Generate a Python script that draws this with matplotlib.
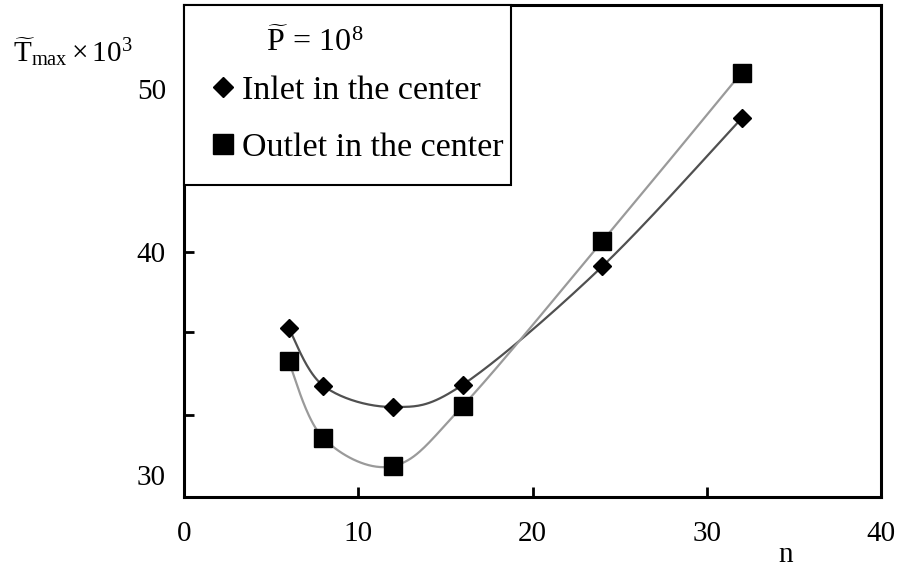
import numpy as np
import matplotlib
matplotlib.use("Agg")
import matplotlib.pyplot as plt
from matplotlib.lines import Line2D
from matplotlib.patches import Rectangle

plt.rcParams['font.family'] = ['Liberation Serif', 'DejaVu Serif']
plt.rcParams['mathtext.fontset'] = 'custom'
plt.rcParams['mathtext.rm'] = 'Liberation Serif'
plt.rcParams['mathtext.it'] = 'Liberation Serif:italic'
plt.rcParams['mathtext.bf'] = 'Liberation Serif:bold'

# ---- data -------------------------------------------------------------
n_values = [6, 8, 12, 16, 24, 32]
inlet_center = [36.6, 34.0, 33.05, 34.05, 39.35, 48.2]
outlet_center = [35.1, 31.65, 30.4, 33.1, 40.65, 51.0]
series_labels = ["Inlet in the center", "Outlet in the center"]
x_ticks = [0, 10, 20, 30, 40]
y_ticks = [30, 40, 50]
y_minor = [32.7, 36.4, 40, 45.0, 50]


# ---- piecewise-linear value axis (different spacing below/above 40) ----
def y_forward(v):
    v = np.asarray(v, dtype=float)
    return np.where(v < 40, -252.0 - (40.0 - v) * 22.3, -252.0 + (v - 40.0) * 16.3)


def y_inverse(u):
    u = np.asarray(u, dtype=float)
    return np.where(u < -252.0, 40.0 - (-252.0 - u) / 22.3, 40.0 + (u + 252.0) / 16.3)


def catmull_rom(xs, us, steps=40):
    pts = np.column_stack([xs, us]).astype(float)
    ext = np.vstack([pts[0], pts, pts[-1]])
    t = np.linspace(0, 1, steps)[:, None]
    segs = []
    for i in range(len(pts) - 1):
        p0, p1, p2, p3 = ext[i], ext[i + 1], ext[i + 2], ext[i + 3]
        c = 0.5 * (2 * p1 + (-p0 + p2) * t
                   + (2 * p0 - 5 * p1 + 4 * p2 - p3) * t ** 2
                   + (-p0 + 3 * p1 - 3 * p2 + p3) * t ** 3)
        segs.append(c if i == 0 else c[1:])
    return np.vstack(segs)


W, H = 899, 567
fig = plt.figure(figsize=(W / 100, H / 100), dpi=100)
ax = fig.add_axes([184 / W, 70 / H, 697 / W, 492 / H])
ax.set_yscale('function', functions=(y_forward, y_inverse))

# smoothed connecting curves
for vals, col in [(inlet_center, '#505050'), (outlet_center, '#9a9a9a')]:
    curve = catmull_rom(n_values, y_forward(vals))
    ax.plot(curve[:, 0], y_inverse(curve[:, 1]), color=col, lw=1.6, zorder=2,
            solid_capstyle='round')

ax.plot(n_values, inlet_center, linestyle='none', marker='D', ms=9.5,
        color='black', mec='black', zorder=3)
ax.plot(n_values, outlet_center, linestyle='none', marker='s', ms=13.5,
        color='black', mec='black', zorder=3)

ax.set_xlim(0, 40)
ax.set_ylim(float(y_inverse(-497.0)), float(y_inverse(-5.0)))

ax.set_xticks(x_ticks)
ax.set_xticklabels([str(v) for v in x_ticks])
ax.set_yticks(y_ticks)
ax.set_yticklabels([str(v) for v in y_ticks])
ax.set_yticks(y_minor, minor=True)
ax.yaxis.remove_overlapping_locs = False

ax.tick_params(axis='x', direction='in', length=7, width=2, labelsize=21, pad=17)
ax.tick_params(axis='y', which='major', length=0, labelsize=21, pad=13)
ax.tick_params(axis='y', which='minor', direction='in', length=7, width=2)

for sp in ax.spines.values():
    sp.set_linewidth(2.2)
    sp.set_color('black')

# legend box
frame = Rectangle((0, (497 - 185) / 492), (511 - 184) / 697, 1 - (497 - 185) / 492,
                  transform=ax.transAxes, facecolor='white', edgecolor='black',
                  lw=1.5, zorder=4, clip_on=False)
ax.add_patch(frame)

handles = [Line2D([], [], linestyle='none', marker='D', ms=10.5, color='black'),
           Line2D([], [], linestyle='none', marker='s', ms=15, color='black')]
leg = fig.legend(handles, series_labels, loc='upper left',
                 bbox_to_anchor=(211 / W, 1 - 75 / H), frameon=False,
                 fontsize=24.5, handlelength=0.7, handletextpad=0.2,
                 labelspacing=0.76, borderpad=0, borderaxespad=0)
leg.set_zorder(5)

fig.text(315 / W, 1 - 51 / H, r'$\widetilde{\mathrm{P}}\,=\,10^{8}$', fontsize=23,
         ha='center', va='baseline', zorder=6)

fig.text(13 / W, 1 - 62 / H, r'$\widetilde{\mathrm{T}}_{\mathrm{max}}\times10^{3}$',
         fontsize=21, ha='left', va='baseline')
fig.text(786 / W, 1 - 555 / H, 'n', fontsize=21, ha='center', va='center')

fig.savefig('out.png', dpi=100)
